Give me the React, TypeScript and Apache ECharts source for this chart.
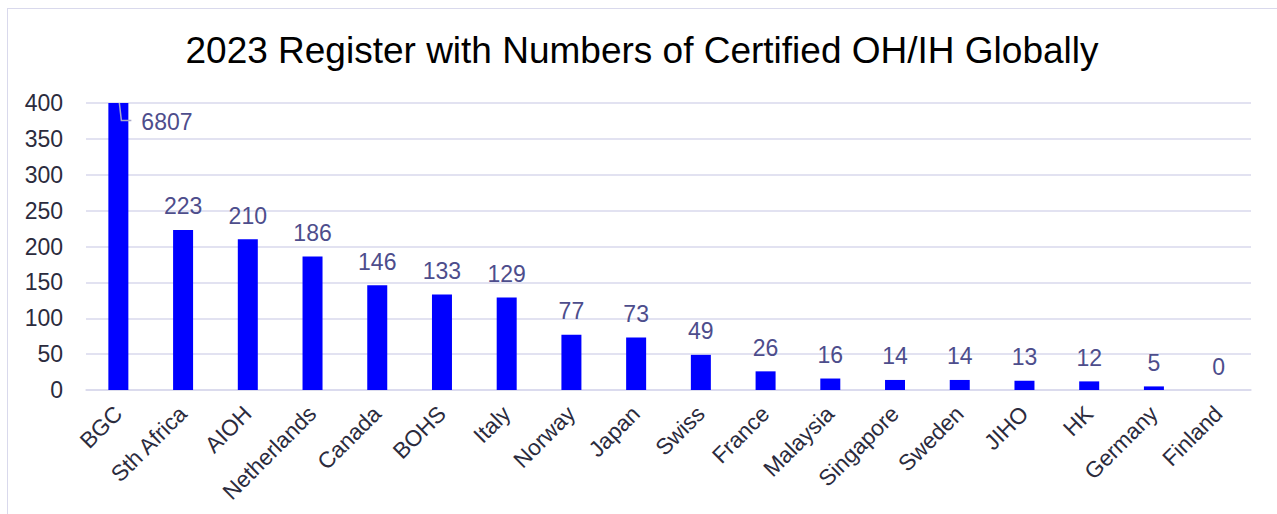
import React, { useEffect, useRef } from "react";
import * as echarts from "echarts";

const titleText = "2023 Register with Numbers of Certified OH/IH Globally";
const categories = [
  "BGC", "Sth Africa", "AIOH", "Netherlands", "Canada", "BOHS", "Italy", "Norway", "Japan",
  "Swiss", "France", "Malaysia", "Singapore", "Sweden", "JIHO", "HK", "Germany", "Finland",
];
const values = [6807, 223, 210, 186, 146, 133, 129, 77, 73, 49, 26, 16, 14, 14, 13, 12, 5, 0];
const yMin = 0;
const yMax = 400;
const yInterval = 50;

const FONT = "'Liberation Sans', Arial, Helvetica, sans-serif";
const BAR_COLOR = "#0000ff";
const VALUE_COLOR = "#4d4d8c";
const AXIS_TEXT = "#2b2b3d";
const GRID_COLOR = "#d9d9ec";

export default function App() {
  const ref = useRef<HTMLDivElement>(null);
  useEffect(() => {
    if (!ref.current) return;
    const chart = echarts.init(ref.current, undefined, { renderer: "svg" });
    const data = values.map((v) => {
      if (v > yMax) {
        return {
          value: v,
          label: {
            show: true,
            position: [33, 19],
            align: "left",
            verticalAlign: "middle",
          },
        };
      }
      return v;
    });
    chart.setOption({
      animation: false,
      title: {
        text: titleText,
        left: "center",
        top: 18,
        textStyle: { fontFamily: FONT, fontSize: 37, fontWeight: "normal", color: "#000000" },
      },
      grid: { left: 78, right: 25, top: 94, bottom: 123, containLabel: false },
      xAxis: {
        type: "category",
        data: categories,
        axisLine: { show: true, lineStyle: { color: GRID_COLOR, width: 1.5 } },
        axisTick: { show: false },
        axisLabel: {
          rotate: 45,
          interval: 0,
          margin: 20,
          fontFamily: FONT,
          fontSize: 22.5,
          color: AXIS_TEXT,
        },
      },
      yAxis: {
        type: "value",
        min: yMin,
        max: yMax,
        interval: yInterval,
        axisLine: { show: false },
        axisTick: { show: false },
        splitLine: { lineStyle: { color: GRID_COLOR, width: 1.5 } },
        axisLabel: { margin: 23, fontFamily: FONT, fontSize: 23, color: AXIS_TEXT },
      },
      series: [
        {
          type: "bar",
          data,
          barWidth: 20,
          clip: true,
          itemStyle: { color: BAR_COLOR },
          label: {
            show: true,
            position: "top",
            distance: 12,
            fontFamily: FONT,
            fontSize: 23,
            color: VALUE_COLOR,
          },
        },
      ],
    });
    const idx = values.findIndex((v) => v > yMax);
    if (idx >= 0) {
      const p = chart.convertToPixel({ xAxisIndex: 0, yAxisIndex: 0 }, [categories[idx], yMax]) as number[];
      if (p && isFinite(p[0]) && isFinite(p[1])) {
        chart.setOption({
          graphic: [
            {
              type: "polyline",
              silent: true,
              z: 100,
              shape: {
                points: [
                  [p[0] + 1, p[1]],
                  [p[0] + 3, p[1] + 17.5],
                  [p[0] + 13, p[1] + 17.5],
                ],
              },
              style: { stroke: "#a9a9c9", lineWidth: 1.5, fill: "none" },
            },
          ],
        });
      }
    }
    return () => chart.dispose();
  }, []);
  return (
    <div
      style={{
        position: "absolute",
        left: 7,
        top: 8,
        width: 1270,
        height: 506,
        boxSizing: "border-box",
        borderTop: "1.5px solid #d9d9ec",
        borderLeft: "1.5px solid #d9d9ec",
        background: "#ffffff",
        overflow: "hidden",
      }}
    >
      <div ref={ref} style={{ width: 1268, height: 504 }} />
    </div>
  );
}
